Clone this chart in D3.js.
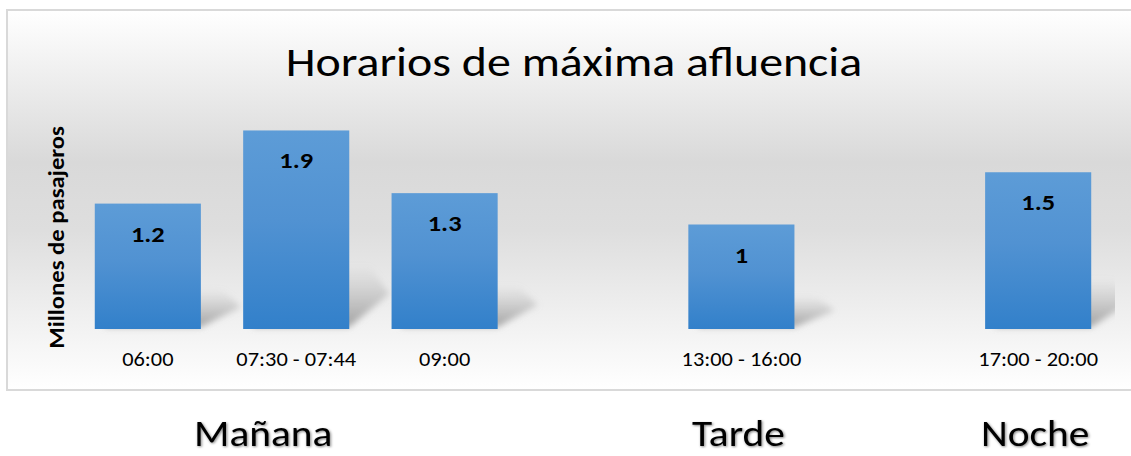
<!DOCTYPE html>
<html>
<head>
<meta charset="utf-8">
<script src="https://cdn.jsdelivr.net/npm/d3@7"></script>
<style>
	body { margin: 0; background: #fff; }
	svg text { font-family: Carlito, Lato, "Open Sans", sans-serif; fill: #000; }
</style>
</head>
<body>
<div id="chart"></div>
<script>
// chart values
let slots = ["06:00", "07:30 - 07:44", "09:00", "gap1", "13:00 - 16:00", "gap2", "17:00 - 20:00"];
let categories = ["06:00", "07:30 - 07:44", "09:00", "13:00 - 16:00", "17:00 - 20:00"];
let values = [1.2, 1.9, 1.3, 1, 1.5];
let groupNames = ["Mañana", "Tarde", "Noche"];
let groupAnchors = ["07:30 - 07:44", "13:00 - 16:00", "17:00 - 20:00"];
let titleText = "Horarios de máxima afluencia";
let yTitle = "Millones de pasajeros";

window.addEventListener("DOMContentLoaded", (event) => {
	let width = 1131,
		height = 456;
	// the original picture is a bit stretched sideways
	let stretch = 1.15;

	let svg = d3.select("#chart").append("svg").attr("width", width).attr("height", height);
	let defs = svg.append("defs");

	// chart area background: white -> grey -> white
	let bg = defs.append("linearGradient").attr("id", "bg").attr("x1", 0).attr("y1", 0).attr("x2", 0).attr("y2", 1);
	bg.append("stop").attr("offset", "0%").attr("stop-color", "#ffffff");
	bg.append("stop").attr("offset", "40%").attr("stop-color", "#d9d9d9");
	bg.append("stop").attr("offset", "58%").attr("stop-color", "#dedede");
	bg.append("stop").attr("offset", "100%").attr("stop-color", "#ffffff");

	let barGrad = defs.append("linearGradient").attr("id", "bar").attr("x1", 0).attr("y1", 0).attr("x2", 0).attr("y2", 1);
	barGrad.append("stop").attr("offset", "0%").attr("stop-color", "#5d9cd7");
	barGrad.append("stop").attr("offset", "45%").attr("stop-color", "#5192d2");
	barGrad.append("stop").attr("offset", "100%").attr("stop-color", "#3280ca");

	let shadowGrad = defs.append("linearGradient").attr("id", "shadow").attr("x1", 0).attr("y1", 1).attr("x2", 0).attr("y2", 0);
	shadowGrad.append("stop").attr("offset", "0%").attr("stop-color", "#999").attr("stop-opacity", 0.9);
	shadowGrad.append("stop").attr("offset", "100%").attr("stop-color", "#aaa").attr("stop-opacity", 0);

	defs.append("filter").attr("id", "blur").attr("x", "-50%").attr("y", "-50%").attr("width", "200%").attr("height", "200%")
		.append("feGaussianBlur").attr("stdDeviation", 3);

	let soft = defs.append("filter").attr("id", "soft").attr("x", "-10%").attr("y", "-20%").attr("width", "120%").attr("height", "140%");
	soft.append("feGaussianBlur").attr("in", "SourceAlpha").attr("stdDeviation", 1.2).attr("result", "b");
	soft.append("feOffset").attr("in", "b").attr("dx", 1).attr("dy", 1).attr("result", "o");
	soft.append("feComponentTransfer").attr("in", "o").attr("result", "s")
		.append("feFuncA").attr("type", "linear").attr("slope", 0.5);
	let merge = soft.append("feMerge");
	merge.append("feMergeNode").attr("in", "s");
	merge.append("feMergeNode").attr("in", "SourceGraphic");

	defs.append("clipPath").attr("id", "plotClip").append("rect").attr("x", 8).attr("y", 10).attr("width", 1107).attr("height", 378);

	svg.append("rect")
		.attr("x", 7).attr("y", 10).attr("width", 1130).attr("height", 380)
		.attr("fill", "url(#bg)").attr("stroke", "#d9d9d9").attr("stroke-width", 2);

	let x = d3.scaleBand().domain(slots).range([74, 1112]).paddingInner(0.285).paddingOuter(0.14);
	let y = d3.scaleLinear().domain([0, 2]).range([329, 120]);

	let plot = svg.append("g").attr("clip-path", "url(#plotClip)");

	// perspective shadows behind the bars
	plot.selectAll("path.shadow")
		.data(values)
		.enter()
		.append("path")
		.attr("class", "shadow")
		.attr("fill", "url(#shadow)")
		.attr("filter", "url(#blur)")
		.attr("d", (d, i) => {
			let x0 = x(categories[i]),
				x1 = x0 + x.bandwidth(),
				b = y(0),
				h = y(0) - y(d);
			let dx = 40,
				dy = h * 0.32;
			return `M${x0 + 10},${b - 2} L${x1},${b - 2} L${x1 + dx},${b - dy * 0.55} L${x1 + dx - 20},${b - dy} L${x0 + 10},${b - dy} Z`;
		});

	plot.selectAll("rect.bar")
		.data(values)
		.enter()
		.append("rect")
		.attr("class", "bar")
		.attr("x", (d, i) => x(categories[i]))
		.attr("y", (d) => y(d))
		.attr("width", x.bandwidth())
		.attr("height", (d) => y(0) - y(d))
		.attr("fill", "url(#bar)");

	plot.selectAll("text.value")
		.data(values)
		.enter()
		.append("text")
		.attr("class", "value")
		.attr("transform", (d, i) => `translate(${x(categories[i]) + x.bandwidth() / 2},${y(d) + 38}) scale(1.2,1)`)
		.attr("text-anchor", "middle")
		.attr("font-size", 22)
		.attr("font-weight", "bold")
		.text((d) => d);

	let xAxis = d3.axisBottom(x).tickSize(0).tickPadding(0).tickFormat((d) => (d.startsWith("gap") ? "" : d));
	let axisG = svg.append("g").attr("transform", `translate(0,${y(0)})`).call(xAxis);
	axisG.select(".domain").remove();
	axisG.attr("font-family", null).attr("font-size", null);
	axisG.selectAll("text")
		.attr("dy", 0)
		.attr("y", 0)
		.attr("transform", `translate(0,37) scale(1.12,1)`)
		.attr("font-size", 20)
		.attr("fill", "#000");

	svg.append("text")
		.attr("transform", `translate(64,${(y(0) + y(2)) / 2 + 13}) rotate(-90) scale(1.12,1)`)
		.attr("text-anchor", "middle")
		.attr("font-size", 22)
		.attr("font-weight", "bold")
		.text(yTitle);

	svg.append("text")
		.attr("transform", `translate(574,76) scale(${stretch - 0.01},1)`)
		.attr("text-anchor", "middle")
		.attr("font-size", 42)
		.text(titleText);

	// period labels under the chart box
	let groupOffset = [-33, -3, -3];
	svg.selectAll("text.group")
		.data(groupNames)
		.enter()
		.append("text")
		.attr("class", "group")
		.attr("transform", (d, i) => `translate(${x(groupAnchors[i]) + x.bandwidth() / 2 + groupOffset[i]},446) scale(${stretch},1)`)
		.attr("text-anchor", "middle")
		.attr("font-size", 36)
		.attr("filter", "url(#soft)")
		.text((d) => d);
});
</script>
</body>
</html>
